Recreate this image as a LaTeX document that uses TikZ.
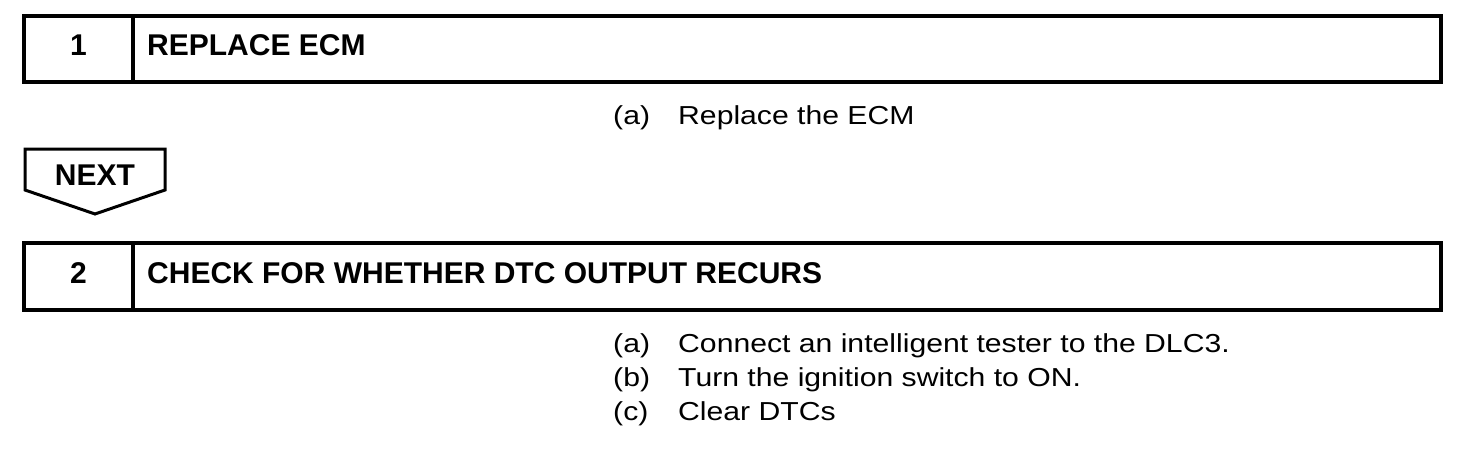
\documentclass[tikz,border=0pt]{standalone}
\usepackage{fontspec}
\setmainfont{Liberation Sans}
\begin{document}
\begin{tikzpicture}[x=1pt,y=-1pt,
  frame/.style={line width=4pt},
  nextshape/.style={line width=3pt,line join=miter},
  head/.style={font=\fontsize{30}{36}\selectfont\bfseries,inner sep=0pt,anchor=base west},
  num/.style={font=\fontsize{30}{36}\selectfont\bfseries,inner sep=0pt,anchor=base},
  body/.style={font=\fontsize{26}{30}\selectfont,inner sep=0pt,anchor=base west}]
\useasboundingbox (0,0) rectangle (1472,450);
% step 1
\draw[frame] (23.5,15.5) rectangle (1440.5,82);
\draw[frame] (133,15.5) -- (133,82);
\node[num] (n1) at (78.5,55) {1};
\node[head] (h1) at (147,55) {REPLACE ECM};
\node[body] (s1a) at (613,124) {\scalebox{1.16}[1]{(a)}};
\node[body] (s1t) at (678,124) {\scalebox{1.16}[1]{Replace the ECM}};
% NEXT
\draw[nextshape] (25,149) -- (165,149) -- (165,190) -- (95,214) -- (25,190) -- cycle;
\node[head,anchor=base] (nx) at (95,185) {NEXT};
% step 2
\draw[frame] (23.5,243) rectangle (1440.5,310);
\draw[frame] (133,243) -- (133,310);
\node[num] (n2) at (78.5,283) {2};
\node[head] (h2) at (147,283) {CHECK FOR WHETHER DTC OUTPUT RECURS};
\node[body] (s2a) at (613,352) {\scalebox{1.16}[1]{(a)}};
\node[body] (s2at) at (678,352) {\scalebox{1.16}[1]{Connect an intelligent tester to the DLC3.}};
\node[body] (s2b) at (613,386) {\scalebox{1.16}[1]{(b)}};
\node[body] (s2bt) at (678,386) {\scalebox{1.16}[1]{Turn the ignition switch to ON.}};
\node[body] (s2c) at (613,420) {\scalebox{1.16}[1]{(c)}};
\node[body] (s2ct) at (678,420) {\scalebox{1.16}[1]{Clear DTCs}};
\end{tikzpicture}
\end{document}
